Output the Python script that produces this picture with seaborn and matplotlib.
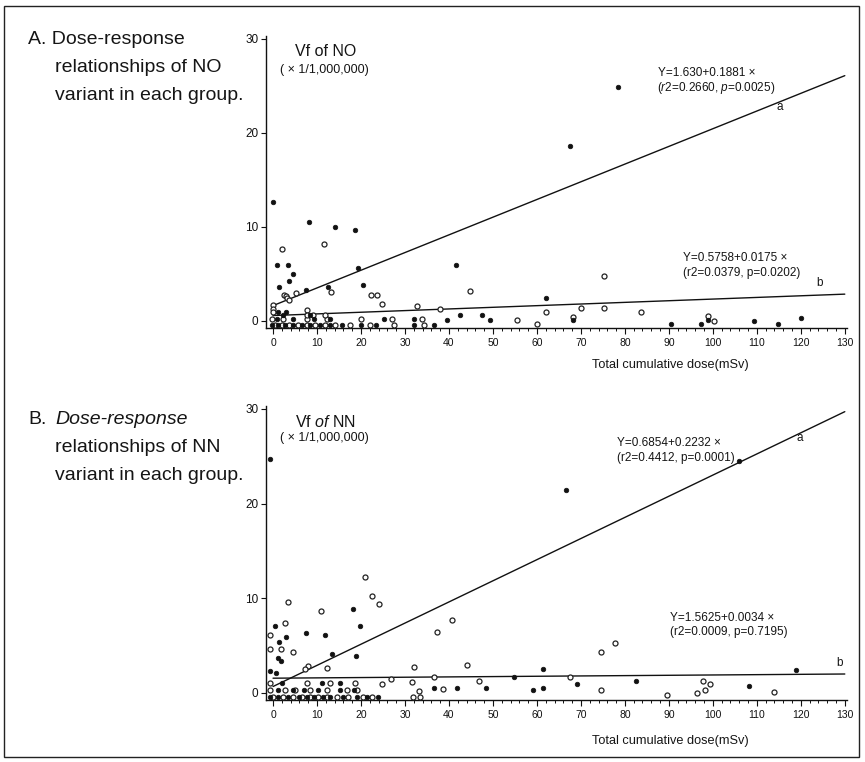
import matplotlib
matplotlib.use("Agg")
import matplotlib.pyplot as plt
import seaborn as sns
import numpy as np
import pandas as pd
from matplotlib.patches import Rectangle

sns.set_theme(style="white")
plt.rcParams['font.family'] = ['Liberation Sans', 'DejaVu Sans']
plt.rcParams['mathtext.fontset'] = 'custom'
plt.rcParams['mathtext.rm'] = 'Liberation Sans'
plt.rcParams['mathtext.it'] = 'Liberation Sans:italic'

# ---------------- data: panel A (NO variant) ----------------
no_a_x = [0.0, 8.2, 14.0, 18.6, 1.0, 3.5, 4.6, 3.7, 19.3, 1.4, 7.5, 12.4, 20.5, 41.6, 62.0,
          78.5, 67.6, 39.5, 42.5, 47.6, 49.3, 68.3, 90.5, 97.3, 98.9, 109.4, 114.8, 120.1,
          -0.3, 1.2, 2.7, 4.6, 6.5, 8.4, 10.6, 13.0, 15.7, 19.9, 23.3, 32.0, 36.6,
          0.8, 4.6, 9.2, 13.0, 25.3, 32.0, 2.3, 8.5, 1.2, 3.0]
no_a_y = [12.7, 10.5, 10.0, 9.7, 5.9, 5.9, 5.0, 4.3, 5.6, 3.6, 3.3, 3.6, 3.8, 6.0, 2.4,
          24.9, 18.6, 0.1, 0.6, 0.6, 0.1, 0.1, -0.3, -0.3, 0.1, 0.0, -0.3, 0.3,
          -0.4, -0.4, -0.4, -0.4, -0.4, -0.4, -0.4, -0.4, -0.4, -0.4, -0.4, -0.4, -0.4,
          0.2, 0.2, 0.2, 0.2, 0.2, 0.2, 0.6, 0.6, 1.0, 0.9]
no_b_x = [11.6, 2.1, 2.5, 2.9, 3.2, 3.6, 5.2, 13.2, 22.2, 23.7, 24.7, 7.7, 32.8, 38.0, 44.7,
          62.0, 75.3, 55.5, 60.0, 70.0, 75.3, 83.6, 100.2, 0.0, 0.0, 0.0, 9.0,
          0.5, 2.0, 3.7, 5.6, 7.7, 9.6, 11.9, 14.2, 17.6, 22.1, 27.5, 34.3,
          -0.3, 2.3, 7.7, 12.3, 19.9, 27.1, 33.9, 7.7, 11.9, 68.2, 99.0]
no_b_y = [8.2, 7.6, 2.8, 2.6, 2.4, 2.2, 3.0, 3.1, 2.8, 2.8, 1.8, 1.2, 1.6, 1.3, 3.2,
          0.9, 4.8, 0.1, -0.3, 1.4, 1.4, 0.9, 0.0, 1.7, 1.3, 0.9, 0.6,
          -0.4, -0.4, -0.4, -0.4, -0.4, -0.4, -0.4, -0.4, -0.4, -0.4, -0.4, -0.4,
          0.2, 0.2, 0.2, 0.2, 0.2, 0.2, 0.2, 0.6, 0.6, 0.4, 0.5]
no_fit_a = (1.630, 0.1881)
no_fit_b = (0.5758, 0.0175)

# ---------------- data: panel B (NN variant) ----------------
nn_a_x = [-0.8, 66.6, 105.9, 18.1, 19.8, 0.5, 3.0, 7.6, 11.8, 1.4, 1.2, 1.7, 13.5, 18.8,
          -0.7, 0.7, 61.3, 54.8, 119.0, 82.6, 69.2, 108.3, 61.3, 36.6, 41.9, 48.5, 59.1,
          -0.7, 1.2, 3.5, 5.8, 7.7, 9.2, 11.4, 13.0, 16.0, 19.0, 21.3, 23.9,
          1.2, 4.6, 7.0, 10.3, 15.3, 18.3, 2.0, 11.1, 15.3]
nn_a_y = [24.7, 21.4, 24.5, 8.9, 7.1, 7.1, 5.9, 6.3, 6.1, 5.4, 3.7, 3.4, 4.1, 3.9,
          2.3, 2.1, 2.5, 1.7, 2.4, 1.3, 1.0, 0.7, 0.5, 0.5, 0.5, 0.5, 0.3,
          -0.4, -0.4, -0.4, -0.4, -0.4, -0.4, -0.4, -0.4, -0.4, -0.4, -0.4, -0.4,
          0.3, 0.3, 0.3, 0.3, 0.3, 0.3, 1.1, 1.1, 1.1]
nn_b_x = [20.9, 22.6, 24.1, 3.3, 11.0, 2.7, -0.7, 1.7, -0.7, 4.6, 7.9, 7.2, 12.2, 32.1,
          40.8, 37.3, 44.1, 26.8, 36.6, 46.9, 31.5, 24.8, 77.7, 74.5, 67.5, 97.8, 99.3,
          74.5, 114.0, 89.5, 96.3, 98.2, 33.3, 38.7,
          0.1, 2.3, 4.6, 6.5, 8.4, 10.3, 12.2, 14.5, 17.1, 20.5, 22.4, 31.9, 33.4,
          -0.7, 2.7, 5.0, 8.4, 12.2, 16.8, 19.0, -0.7, 7.7, 13.0, 18.7]
nn_b_y = [12.2, 10.2, 9.4, 9.6, 8.7, 7.4, 6.1, 4.6, 4.6, 4.3, 2.8, 2.5, 2.6, 2.7,
          7.7, 6.4, 3.0, 1.5, 1.7, 1.3, 1.2, 0.9, 5.3, 4.3, 1.7, 1.3, 1.0,
          0.3, 0.1, -0.2, 0.0, 0.3, 0.2, 0.4,
          -0.4, -0.4, -0.4, -0.4, -0.4, -0.4, -0.4, -0.4, -0.4, -0.4, -0.4, -0.4, -0.4,
          0.3, 0.3, 0.3, 0.3, 0.3, 0.3, 0.3, 1.1, 1.1, 1.1, 1.1]
nn_fit_a = (0.6854, 0.2232)
nn_fit_b = (1.5625, 0.0034)

x_ticks = list(range(0, 131, 10))
y_ticks = [0, 10, 20, 30]

W, H = 865, 762
fig = plt.figure(figsize=(W / 100, H / 100), dpi=100)


def fx(px):
    return px / W


def fy(py):
    return 1 - py / H


def panel(rect, ax_x, ax_y, bx, by, fit_a, fit_b, ylim):
    ax = fig.add_axes(rect)
    df_a = pd.DataFrame({"dose": ax_x, "vf": ax_y})
    df_b = pd.DataFrame({"dose": bx, "vf": by})
    sns.scatterplot(data=df_b, x="dose", y="vf", ax=ax, marker="o", s=13,
                    facecolor="white", edgecolor="#222222", linewidth=0.9, legend=False, zorder=3)
    sns.scatterplot(data=df_a, x="dose", y="vf", ax=ax, marker="o", s=11,
                    color="#111111", edgecolor="#111111", linewidth=0.5, legend=False, zorder=3)
    xs = np.array([0, 130])
    for b0, b1 in (fit_a, fit_b):
        sns.lineplot(x=xs, y=b0 + b1 * xs, ax=ax, color="#111111", linewidth=1.0, zorder=2)
    ax.set_xlim(-1.6, 130.5)
    ax.set_ylim(*ylim)
    ax.set_xticks(x_ticks)
    ax.set_xticks(np.arange(0, 131, 2), minor=True)
    ax.set_yticks(y_ticks)
    ax.set_xticklabels([str(t) for t in x_ticks], fontsize=7.5)
    ax.set_yticklabels([str(t) for t in y_ticks], fontsize=8.5)
    ax.tick_params(axis="x", which="major", direction="out", length=4, width=0.8,
                   bottom=True, pad=3, colors="#111111")
    ax.tick_params(axis="x", which="minor", direction="out", length=2.5, width=0.7,
                   bottom=True, colors="#111111")
    ax.tick_params(axis="y", which="major", direction="out", length=3.5, width=0.8,
                   left=True, pad=2, colors="#111111")
    for s in ("top", "right"):
        ax.spines[s].set_visible(False)
    for s in ("left", "bottom"):
        ax.spines[s].set_color("#111111")
        ax.spines[s].set_linewidth(1.0)
    ax.set_xlabel("")
    ax.set_ylabel("")
    ax.patch.set_alpha(0)
    return ax


# panel A
panel([fx(266), fy(328), fx(847) - fx(266), fy(36) - fy(328)],
      no_a_x, no_a_y, no_b_x, no_b_y, no_fit_a, no_fit_b, (-0.75, 30.3))
# panel B
panel([fx(266), fy(700), fx(847) - fx(266), fy(406) - fy(700)],
      nn_a_x, nn_a_y, nn_b_x, nn_b_y, nn_fit_a, nn_fit_b, (-0.74, 30.3))

tc = "#151515"
# left titles
fig.text(fx(28), fy(40), "A. Dose-response", fontsize=14, va="center", ha="left", color=tc)
fig.text(fx(55), fy(68), "relationships of NO", fontsize=14, va="center", ha="left", color=tc)
fig.text(fx(55), fy(95), "variant in each group.", fontsize=14, va="center", ha="left", color=tc)
fig.text(fx(28), fy(420), "B.", fontsize=14, va="center", ha="left", color=tc)
fig.text(fx(55), fy(420), "Dose-response", fontsize=14, va="center", ha="left", color=tc, style="italic")
fig.text(fx(55), fy(448), "relationships of NN", fontsize=14, va="center", ha="left", color=tc)
fig.text(fx(55), fy(475), "variant in each group.", fontsize=14, va="center", ha="left", color=tc)

# inner y-axis labels
fig.text(fx(326), fy(52), "Vf of NO", fontsize=11.5, va="center", ha="center", color=tc)
fig.text(fx(324), fy(70), "( \u00d7 1/1,000,000)", fontsize=9, va="center", ha="center", color=tc)
fig.text(fx(326), fy(422), r"Vf $\it{of}$ NN", fontsize=11.5, va="center", ha="center", color=tc)
fig.text(fx(324), fy(438), "( \u00d7 1/1,000,000)", fontsize=9, va="center", ha="center", color=tc)

# equations panel A
fig.text(fx(658), fy(73), "Y=1.630+0.1881 \u00d7", fontsize=8.5, va="center", ha="left", color=tc)
fig.text(fx(657), fy(88), r"($\it{r2}$=0.2660, $\it{p}$=0.0025)", fontsize=8.5, va="center", ha="left", color=tc)
fig.text(fx(780), fy(107), "a", fontsize=8.5, va="center", ha="center", color=tc)
fig.text(fx(683), fy(258), "Y=0.5758+0.0175 \u00d7", fontsize=8.5, va="center", ha="left", color=tc)
fig.text(fx(683), fy(273), "(r2=0.0379, p=0.0202)", fontsize=8.5, va="center", ha="left", color=tc)
fig.text(fx(820), fy(283), "b", fontsize=8.5, va="center", ha="center", color=tc)

# equations panel B
fig.text(fx(617), fy(443), "Y=0.6854+0.2232 \u00d7", fontsize=8.5, va="center", ha="left", color=tc)
fig.text(fx(617), fy(458), "(r2=0.4412, p=0.0001)", fontsize=8.5, va="center", ha="left", color=tc)
fig.text(fx(800), fy(438), "a", fontsize=8.5, va="center", ha="center", color=tc)
fig.text(fx(670), fy(618), "Y=1.5625+0.0034 \u00d7", fontsize=8.5, va="center", ha="left", color=tc)
fig.text(fx(670), fy(632), "(r2=0.0009, p=0.7195)", fontsize=8.5, va="center", ha="left", color=tc)
fig.text(fx(840), fy(663), "b", fontsize=8.5, va="center", ha="center", color=tc)

# x labels
fig.text(fx(592), fy(365), "Total cumulative dose(mSv)", fontsize=9.2, va="center", ha="left", color=tc)
fig.text(fx(592), fy(741), "Total cumulative dose(mSv)", fontsize=9.2, va="center", ha="left", color=tc)

# frame
fig.patches.append(Rectangle((fx(4), fy(757)), fx(859) - fx(4), fy(6) - fy(757),
                             transform=fig.transFigure, fill=False, edgecolor="#222222",
                             linewidth=1.0, zorder=0))

fig.savefig("out.png", dpi=100)
